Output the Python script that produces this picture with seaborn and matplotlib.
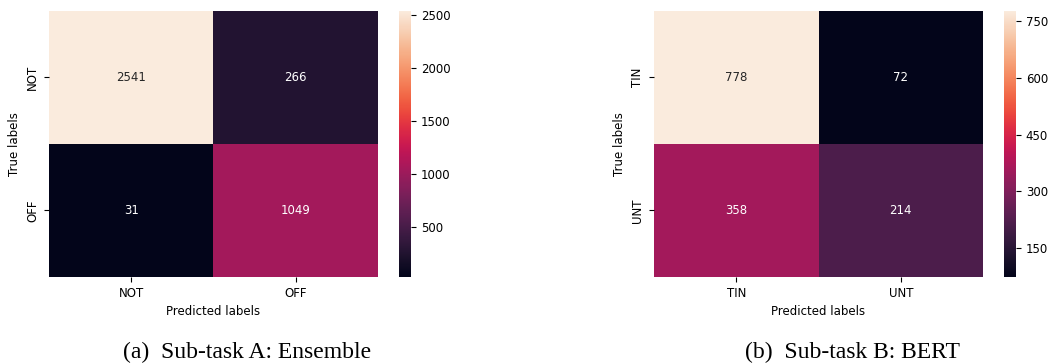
import matplotlib
matplotlib.use("Agg")
import matplotlib.pyplot as plt
import numpy as np
import seaborn as sns

# sub-task A (ensemble)
labels_a = ["NOT", "OFF"]
cm_a = [[2541, 266],
        [31, 1049]]
ticks_a = [500, 1000, 1500, 2000, 2500]

# sub-task B (BERT)
labels_b = ["TIN", "UNT"]
cm_b = [[778, 72],
        [358, 214]]
ticks_b = [150, 300, 450, 600, 750]

captions = ["(a)  Sub-task A: Ensemble", "(b)  Sub-task B: BERT"]

plt.rcParams["font.family"] = "DejaVu Sans"
plt.rcParams["font.size"] = 8.5

fig = plt.figure(figsize=(10.51, 3.63), dpi=100)

panels = [
    (cm_a, labels_a, ticks_a, 0.0466, 0.3796, 0.235),
    (cm_b, labels_b, ticks_b, 0.6223, 0.9553, 0.811),
]

for (cm, labels, ticks, left, cleft, capx), cap in zip(panels, captions):
    ax = fig.add_axes([left, 0.237, 0.313, 0.733])
    cax = fig.add_axes([cleft, 0.237, 0.0114, 0.733])
    sns.heatmap(np.array(cm), annot=True, fmt="d", ax=ax, cbar_ax=cax,
                xticklabels=labels, yticklabels=labels,
                annot_kws={"fontsize": 8.5},
                cbar_kws={"ticks": ticks})
    ax.set_xlabel("Predicted labels", fontsize=8.5)
    ax.set_ylabel("True labels", fontsize=8.5)
    ax.tick_params(labelsize=8.5)
    cax.tick_params(labelsize=8.5)
    cax.set_frame_on(False)
    fig.text(capx, 0.014, cap, ha="center", va="baseline",
             family="Liberation Serif", fontsize=17)

fig.savefig("out.png", dpi=100)
